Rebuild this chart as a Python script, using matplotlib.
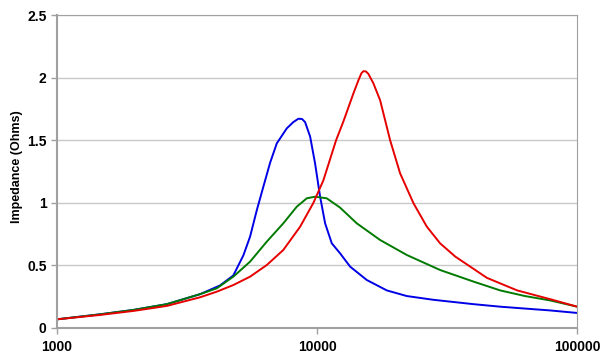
import numpy as np
import matplotlib
matplotlib.use("Agg")
import matplotlib.pyplot as plt
from matplotlib.ticker import FixedLocator, NullLocator

# frequency (Hz) and impedance (Ohms)
f_blue = [1000, 1464, 1966, 2642, 3548, 4236, 4764, 5206, 5525, 5862, 6216, 6596,
          6998, 7646, 8100, 8472, 8750, 8991, 9400, 9822, 10268, 10736, 11390, 12250,
          13396, 15530, 18540, 22130, 28000, 40000, 50600, 63000, 78700, 100000]
z_blue = [0.069, 0.109, 0.144, 0.19, 0.27, 0.34, 0.42, 0.58, 0.73, 0.94, 1.13, 1.32,
          1.475, 1.595, 1.645, 1.672, 1.67, 1.645, 1.53, 1.315, 1.05, 0.836, 0.676, 0.597,
          0.49, 0.383, 0.30, 0.255, 0.225, 0.19, 0.17, 0.155, 0.14, 0.12]

f_green = [1000, 1464, 1966, 2642, 3548, 4115, 4764, 5525, 6406, 7413, 8353, 9126,
           9822, 10890, 12250, 14210, 17470, 22130, 29720, 40000, 50600, 63000,
           78700, 100000]
z_green = [0.069, 0.109, 0.144, 0.19, 0.27, 0.317, 0.41, 0.53, 0.69, 0.836, 0.969, 1.036,
           1.049, 1.036, 0.962, 0.836, 0.703, 0.583, 0.463, 0.37, 0.30, 0.255,
           0.22, 0.17]

f_red = [1000, 1464, 1966, 2642, 3548, 4115, 4764, 5525, 6406, 7413, 8604, 9679,
         10573, 11830, 12620, 13795, 14420, 14800, 15070, 15400, 15750, 16460, 17470,
         19090, 20850, 23480, 26410, 29720, 34000, 45000, 58800, 78700, 100000]
z_red = [0.069, 0.104, 0.136, 0.176, 0.245, 0.29, 0.343, 0.41, 0.503, 0.623, 0.809, 1.0,
         1.18, 1.50, 1.65, 1.875, 1.98, 2.035, 2.052, 2.05, 2.03, 1.955, 1.82,
         1.50, 1.236, 0.996, 0.81, 0.676, 0.57, 0.40, 0.30, 0.23, 0.17]

plt.rcParams['font.family'] = ['Liberation Sans', 'DejaVu Sans']

fig = plt.figure(figsize=(6, 3.6), dpi=100)
ax = fig.add_axes([0.095, 0.089, 0.867, 0.869])

ax.plot(f_blue, z_blue, color='#0000e6', lw=1.4, solid_joinstyle='round')
ax.plot(f_green, z_green, color='#007a00', lw=1.4, solid_joinstyle='round')
ax.plot(f_red, z_red, color='#e60000', lw=1.4, solid_joinstyle='round')

ax.set_xscale('log')
ax.set_xlim(1000, 100000)
ax.set_ylim(0, 2.5)
ax.xaxis.set_major_locator(FixedLocator([1000, 10000, 100000]))
ax.xaxis.set_minor_locator(NullLocator())
ax.set_xticklabels(['1000', '10000', '100000'])
ax.set_yticks([0, 0.5, 1, 1.5, 2, 2.5])
ax.set_yticklabels(['0', '0.5', '1', '1.5', '2', '2.5'])

ax.grid(axis='y', color='#c8c8c8', lw=1)
ax.set_axisbelow(True)
for s in ax.spines.values():
    s.set_color('#a0a0a0')
ax.spines['left'].set_linewidth(1.5)
ax.spines['bottom'].set_linewidth(1.5)
ax.tick_params(axis='both', colors='#a0a0a0', labelcolor='black',
               labelsize=10, length=4, width=1)
ax.tick_params(axis='x', pad=5)
for lab in ax.get_xticklabels() + ax.get_yticklabels():
    lab.set_fontweight('bold')

fig.text(17 / 600, 1 - 167 / 360, 'Impedance (Ohms)', rotation=90,
         ha='center', va='center', fontsize=9, fontweight='bold')

fig.savefig('out.png', dpi=100)
